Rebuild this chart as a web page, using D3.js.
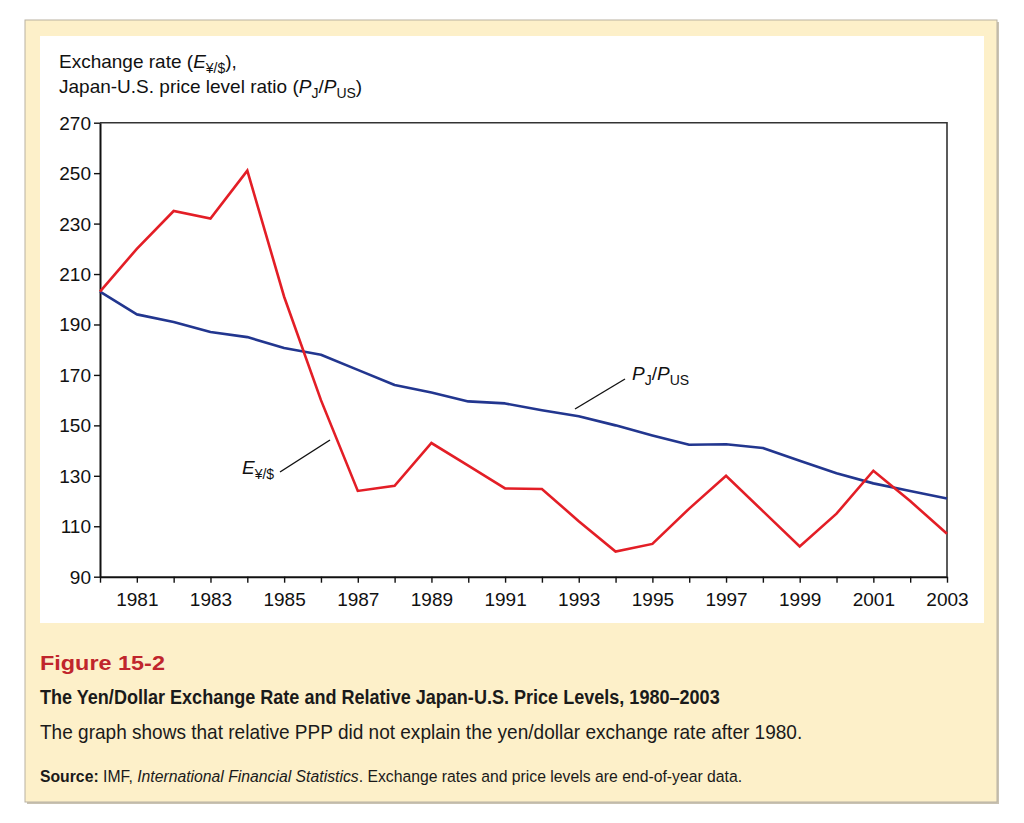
<!DOCTYPE html>
<html><head><meta charset="utf-8">
<script src="https://cdn.jsdelivr.net/npm/d3@7"></script>
<style>
html,body{margin:0;padding:0;background:#fff;}
svg{display:block;}
text{font-family:"Liberation Sans",Arial,Helvetica,sans-serif;}
</style></head>
<body>
<svg id="c" width="1024" height="823"></svg>
<script>
const years = d3.range(1980, 2004);
const exchangeRate = [203,220,235,232,251,201,160,124,126,143,134,125,124.8,112,100,103,117,130,116,102,115,132,120,107];
const priceRatio = [203,194,191,187,185,180.7,178,172,166,163,159.5,158.7,156,153.6,150,146,142.3,142.5,141,136,131,127,124,121];
const yTicks = [90,110,130,150,170,190,210,230,250,270];

const svg = d3.select("#c");
// panel
svg.append("rect").attr("x",27).attr("y",22).attr("width",972).attr("height",782).attr("fill","#c9c2b2");
svg.append("rect").attr("x",25).attr("y",20).attr("width",972).attr("height",782).attr("fill","#fdf0c9").attr("stroke","#b9b2a2").attr("stroke-width",1);
svg.append("rect").attr("x",40).attr("y",36).attr("width",944).attr("height",587).attr("fill","#ffffff");

const m = {l:100, r:947, t:122.7, b:576.7};
const x = d3.scaleLinear().domain([1980,2003]).range([m.l,m.r]);
const y = d3.scaleLinear().domain([90,270]).range([m.b,m.t]);

// frame top/right
svg.append("path").attr("d",`M${m.l},${m.t}H${m.r}V${m.b}`).attr("fill","none").attr("stroke","#333").attr("stroke-width",1.6);

const yAxis = d3.axisLeft(y).tickValues(yTicks).tickSize(6).tickSizeOuter(0).tickPadding(3);
const gy = svg.append("g").attr("transform",`translate(${m.l},0)`).call(yAxis);
gy.attr("font-size",19).attr("font-family","Liberation Sans, Arial, sans-serif");
gy.select(".domain").attr("stroke","#111").attr("stroke-width",2);
gy.selectAll(".tick line").attr("stroke","#111").attr("stroke-width",1.4);
gy.selectAll(".tick text").attr("fill","#111").attr("dy","0.34em");

const xAxis = d3.axisBottom(x).tickValues(years).tickSize(6).tickSizeOuter(0).tickPadding(10)
  .tickFormat(d => (d % 2 === 1) ? String(d) : "");
const gx = svg.append("g").attr("transform",`translate(0,${m.b})`).call(xAxis);
gx.attr("font-size",19).attr("font-family","Liberation Sans, Arial, sans-serif");
gx.select(".domain").attr("stroke","#111").attr("stroke-width",2);
gx.selectAll(".tick line").attr("stroke","#111").attr("stroke-width",1.4);
gx.selectAll(".tick text").attr("fill","#111");

const line = d3.line().x((d,i)=>x(years[i])).y(d=>y(d));
svg.append("path").datum(priceRatio).attr("d",line).attr("fill","none").attr("stroke","#22368f").attr("stroke-width",2.6).attr("stroke-linejoin","round");
svg.append("path").datum(exchangeRate).attr("d",line).attr("fill","none").attr("stroke","#e31e26").attr("stroke-width",2.6).attr("stroke-linejoin","miter");

// axis title
const t1 = svg.append("text").attr("x",59).attr("y",68).attr("font-size",19).attr("fill","#111");
t1.append("tspan").text("Exchange rate (");
t1.append("tspan").attr("font-style","italic").text("E");
t1.append("tspan").attr("font-size",14).attr("dy",5).text("¥/$");
t1.append("tspan").attr("dy",-5).text("),");
const t2 = svg.append("text").attr("x",59).attr("y",93).attr("font-size",19).attr("fill","#111");
t2.append("tspan").text("Japan-U.S. price level ratio (");
t2.append("tspan").attr("font-style","italic").text("P");
t2.append("tspan").attr("font-size",14).attr("dy",5).text("J");
t2.append("tspan").attr("dy",-5).text("/");
t2.append("tspan").attr("font-style","italic").text("P");
t2.append("tspan").attr("font-size",14).attr("dy",5).text("US");
t2.append("tspan").attr("dy",-5).text(")");

// annotations
svg.append("line").attr("x1",575).attr("y1",409).attr("x2",625).attr("y2",379).attr("stroke","#111").attr("stroke-width",1.4);
const a1 = svg.append("text").attr("x",632).attr("y",380).attr("font-size",19).attr("fill","#111");
a1.append("tspan").attr("font-style","italic").text("P");
a1.append("tspan").attr("font-size",14).attr("dy",5).text("J");
a1.append("tspan").attr("dy",-5).text("/");
a1.append("tspan").attr("font-style","italic").text("P");
a1.append("tspan").attr("font-size",14).attr("dy",5).text("US");

svg.append("line").attr("x1",280).attr("y1",472).attr("x2",330).attr("y2",440).attr("stroke","#111").attr("stroke-width",1.4);
const a2 = svg.append("text").attr("x",242).attr("y",474).attr("font-size",19).attr("fill","#111");
a2.append("tspan").attr("font-style","italic").text("E");
a2.append("tspan").attr("font-size",14).attr("dy",5).text("¥/$");

// caption lines, condensed by horizontal scaling to the reference width
function capLine(yPos, size, weight, color, target, build) {
  const g = svg.append("g").attr("transform",`translate(40,${yPos})`);
  const t = g.append("text").attr("x",0).attr("y",0).attr("font-size",size).attr("font-weight",weight).attr("fill",color);
  build(t);
  const w = t.node().getComputedTextLength();
  g.attr("transform",`translate(40,${yPos}) scale(${target / w},1)`);
}
capLine(670, 21, "bold", "#c0252c", 125, t => t.attr("font-family","Open Sans, Liberation Sans, sans-serif").text("Figure 15-2"));
capLine(704, 19.5, "bold", "#1a1a1a", 680, t => t.text("The Yen/Dollar Exchange Rate and Relative Japan-U.S. Price Levels, 1980–2003"));
capLine(739, 20.5, "normal", "#1a1a1a", 763, t => t.text("The graph shows that relative PPP did not explain the yen/dollar exchange rate after 1980."));
capLine(782, 17, "normal", "#1a1a1a", 703, t => {
  t.append("tspan").attr("font-weight","bold").text("Source: ");
  t.append("tspan").text("IMF, ");
  t.append("tspan").attr("font-style","italic").text("International Financial Statistics");
  t.append("tspan").text(". Exchange rates and price levels are end-of-year data.");
});
</script>
</body></html>
